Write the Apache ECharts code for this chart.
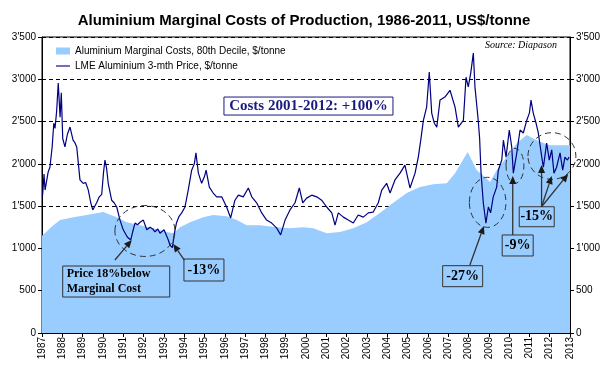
<!DOCTYPE html>
<html><head><meta charset="utf-8">
<script src="https://cdn.jsdelivr.net/npm/echarts@6/dist/echarts.min.js"></script>
<style>html,body{margin:0;padding:0;background:#fff}#c{width:608px;height:370px}</style>
</head><body><div id="c"></div>
<script>
const titleText = 'Aluminium Marginal Costs of Production, 1986-2011, US$/tonne';
const costName = 'Aluminium Marginal Costs, 80th Decile, $/tonne';
const priceName = 'LME Aluminium 3-mth Price, $/tonne';
const sourceText = 'Source: Diapason';

const yearLabels = ['1987','1988','1989','1990','1991','1992','1993','1994','1995','1996','1997','1998','1999','2000','2001','2002','2003','2004','2005','2006','2007','2008','2009','2010','2011','2012','2013'];
const yTickLabels = ['0','500',"1'000","1'500","2'000","2'500","3'000","3'500"];

const costYears = [1987.00,1987.56,1987.89,1988.54,1989.20,1990.02,1990.68,1991.17,1991.83,1992.48,1993.14,1993.47,1993.80,1994.29,1994.94,1995.43,1996.09,1996.59,1997.08,1997.73,1998.56,1999.21,1999.87,2000.36,2001.02,2001.67,2002.33,2002.99,2003.64,2004.30,2004.96,2005.61,2006.27,2006.93,2007.34,2007.96,2008.41,2008.81,2009.06,2009.39,2009.88,2010.38,2010.87,2011.03,2011.52,2012.01,2013.00];
const costValues = [1150,1275,1335,1370,1395,1430,1370,1310,1275,1240,1195,1180,1250,1310,1370,1395,1380,1335,1275,1275,1250,1240,1250,1240,1180,1195,1240,1310,1420,1540,1655,1725,1760,1770,1890,2140,1925,1845,1785,1925,2080,2245,2340,2320,2260,2220,2220];

const priceYears = [1987.03,1987.10,1987.15,1987.22,1987.30,1987.39,1987.50,1987.58,1987.64,1987.72,1987.80,1987.89,1987.95,1988.02,1988.13,1988.25,1988.38,1988.53,1988.62,1988.71,1988.87,1989.03,1989.15,1989.28,1989.40,1989.50,1989.69,1989.82,1989.94,1990.03,1990.10,1990.18,1990.26,1990.43,1990.55,1990.68,1990.84,1991.00,1991.20,1991.37,1991.47,1991.58,1991.70,1991.83,1991.99,1992.16,1992.32,1992.45,1992.56,1992.70,1992.81,1993.01,1993.22,1993.30,1993.42,1993.52,1993.62,1993.75,1993.88,1994.04,1994.20,1994.37,1994.50,1994.58,1994.70,1994.86,1995.00,1995.08,1995.24,1995.43,1995.60,1995.85,1996.09,1996.29,1996.50,1996.67,1996.91,1997.16,1997.33,1997.57,1997.82,1998.06,1998.31,1998.56,1998.75,1998.97,1999.21,1999.46,1999.67,1999.84,2000.03,2000.28,2000.53,2000.77,2001.02,2001.27,2001.43,2001.59,2001.84,2002.08,2002.33,2002.57,2002.82,2003.07,2003.31,2003.56,2003.73,2003.97,2004.14,2004.38,2004.63,2004.87,2005.12,2005.37,2005.53,2005.65,2005.78,2005.94,2006.07,2006.19,2006.32,2006.44,2006.60,2006.84,2007.09,2007.34,2007.50,2007.75,2007.88,2007.99,2008.11,2008.24,2008.32,2008.48,2008.55,2008.62,2008.73,2008.86,2008.98,2009.09,2009.22,2009.39,2009.47,2009.64,2009.72,2009.85,2010.01,2010.13,2010.21,2010.38,2010.54,2010.70,2010.87,2011.00,2011.08,2011.19,2011.33,2011.44,2011.61,2011.69,2011.85,2011.98,2012.10,2012.21,2012.34,2012.51,2012.64,2012.75,2012.87,2012.96];
const priceValues = [1631,1880,1690,1700,1900,1960,2200,2480,2420,2620,2955,2550,2840,2300,2200,2350,2435,2280,2250,2200,1810,1770,1780,1690,1540,1455,1540,1610,1640,1900,2045,1950,1770,1570,1540,1490,1335,1220,1135,1100,1200,1300,1280,1310,1335,1220,1250,1230,1195,1230,1180,1220,1100,1040,1010,1180,1300,1380,1420,1490,1690,1925,2000,2130,1890,1770,1850,1925,1725,1655,1610,1610,1490,1360,1570,1630,1610,1715,1610,1540,1420,1335,1300,1240,1160,1335,1455,1540,1715,1540,1595,1630,1610,1570,1490,1420,1275,1420,1370,1335,1300,1395,1370,1420,1430,1540,1690,1770,1655,1810,1890,1985,1715,1890,2080,2280,2515,2670,3085,2600,2480,2435,2755,2790,2870,2670,2435,2515,3025,2910,3070,3310,2910,2515,2300,1890,1540,1300,1490,1420,1610,1725,1925,2045,2280,2080,2400,2200,1890,2130,2400,2365,2515,2600,2755,2600,2480,2365,2080,1960,2245,2045,2165,1890,1960,2130,1925,2080,2045,2080];

// annotations, in data coordinates [year, value]
const ellipses = [[1992.07,1206,1.48,301],[2008.945,1545,0.90,296],[2010.29,1977,0.44,207],[2012.11,2093,1.18,276]];
const arrows = [[1990.59,863,1991.42,1100],[1994.01,863,1993.46,1052],[2008.07,804,2008.76,1265],[2010.18,1159,2010.18,1856],[2011.60,1493,2011.60,1986],[2011.60,1493,2012.10,1856],[2011.60,1493,2012.91,1880]];
const boxes = [
  {at:[1995.96,2790], w:169, h:18, lines:['Costs 2001-2012: +100%'], size:15, color:'#1a1a80', stroke:'#1a1a80', align:'center'},
  {at:[1988.02,792], w:107, h:31, lines:['Price 18%below','Marginal Cost'], size:12, color:'#000', stroke:'#333', align:'left'},
  {at:[1993.99,875], w:40, h:22, lines:['-13%'], size:14, color:'#000', stroke:'#333', align:'center'},
  {at:[2006.73,796], w:40, h:21, lines:['-27%'], size:14, color:'#000', stroke:'#333', align:'center'},
  {at:[2009.66,1159], w:31, h:21, lines:['-9%'], size:14, color:'#000', stroke:'#333', align:'center'},
  {at:[2010.50,1493], w:35, h:20, lines:['-15%'], size:14, color:'#000', stroke:'#333', align:'center'}
];
const sourceAt = [2012.36, 3405];

const zip = (a,b) => a.map((x,i)=>[x,b[i]]);
const fmtY = v => yTickLabels[Math.round(v/500)];
const fmtX = v => yearLabels[Math.round(v-1987)];
const SANS = 'Liberation Sans, Arial, sans-serif';
const SERIF = 'Liberation Serif, Times New Roman, serif';

const chart = echarts.init(document.getElementById('c'));
const yAxisBase = {
  type:'value', min:0, max:3500, interval:500,
  axisLine:{show:true, lineStyle:{color:'#000', width:1}},
  axisTick:{show:true, length:4, lineStyle:{color:'#000'}},
  axisLabel:{formatter:fmtY, fontSize:10, color:'#000', fontFamily:SANS, margin:6}
};
chart.setOption({
  animation:false,
  title:{text:titleText, left:'center', top:8, textStyle:{fontFamily:SANS, fontSize:15, fontWeight:'bold', color:'#000'}},
  grid:{left:42, right:38, top:37, bottom:37, show:true, borderColor:'#000', borderWidth:1},
  legend:{orient:'vertical', left:51, top:41, itemWidth:14, itemHeight:7, itemGap:5, selectedMode:false, symbolKeepAspect:true,
    textStyle:{fontSize:10, fontFamily:SANS, color:'#000'},
    data:[{name:costName, icon:'rect'}, {name:priceName, icon:'path://M0,0h20v1.6h-20z'}]},
  xAxis:{type:'value', min:1987, max:2013, interval:1,
    axisLine:{show:true, onZero:false, lineStyle:{color:'#000'}},
    axisTick:{show:true, length:4, lineStyle:{color:'#000'}},
    axisLabel:{rotate:90, fontSize:10, color:'#000', fontFamily:SANS, formatter:fmtX, margin:4},
    splitLine:{show:false}},
  yAxis:[
    Object.assign({}, yAxisBase, {position:'left', splitLine:{show:true, lineStyle:{type:[4,3], color:'#000', width:1}}}),
    Object.assign({}, yAxisBase, {position:'right', splitLine:{show:false}})
  ],
  series:[
    {name:costName, type:'line', data:zip(costYears,costValues), symbol:'none', showSymbol:false,
     lineStyle:{width:0, color:'#99CCFF'}, itemStyle:{color:'#99CCFF'}, areaStyle:{color:'#99CCFF', opacity:1}, z:2},
    {name:priceName, type:'line', data:zip(priceYears,priceValues), symbol:'none', showSymbol:false,
     lineStyle:{width:1.2, color:'#000080'}, itemStyle:{color:'#000080'}, z:3}
  ]
});

const P = (x,y) => chart.convertToPixel({xAxisIndex:0, yAxisIndex:0}, [x,y]);
const g = [];
ellipses.forEach(([cx,cy,rx,ry])=>{
  const c = P(cx,cy), e = P(cx+rx, cy+ry);
  g.push({type:'ellipse', shape:{cx:c[0], cy:c[1], rx:e[0]-c[0], ry:c[1]-e[1]}, style:{fill:null, stroke:'#333', lineWidth:1, lineDash:[6,4]}, z:100, silent:true});
});
arrows.forEach(([x1,y1,x2,y2])=>{
  const a = P(x1,y1), b = P(x2,y2);
  const dx=b[0]-a[0], dy=b[1]-a[1], L=Math.hypot(dx,dy), ux=dx/L, uy=dy/L;
  const hl=8, hw=3.5;
  const base=[b[0]-ux*hl, b[1]-uy*hl];
  g.push({type:'line', shape:{x1:a[0],y1:a[1],x2:base[0],y2:base[1]}, style:{stroke:'#333', lineWidth:1.3}, z:100, silent:true});
  g.push({type:'polygon', shape:{points:[b,[base[0]-uy*hw, base[1]+ux*hw],[base[0]+uy*hw, base[1]-ux*hw]]}, style:{fill:'#1a1a1a'}, z:100, silent:true});
});
boxes.forEach(bx=>{
  const p = P(bx.at[0], bx.at[1]);
  g.push({type:'rect', shape:{x:p[0], y:p[1], width:bx.w, height:bx.h}, style:{fill:bx.stroke==='#1a1a80'?'#fff':null, stroke:bx.stroke, lineWidth:1}, z:101, silent:true});
  const tx = bx.align==='left' ? p[0]+4 : p[0]+bx.w/2;
  g.push({type:'text', x:tx, y:p[1]+bx.h/2, style:{text:bx.lines.join('\n'), fill:bx.color, font:'bold '+bx.size+'px '+SERIF, align:bx.align, verticalAlign:'middle', lineHeight:bx.size+3}, z:102, silent:true});
});
const sp = P(sourceAt[0], sourceAt[1]);
g.push({type:'text', x:sp[0], y:sp[1], style:{text:sourceText, fill:'#000', font:'italic 10px '+SERIF, align:'right', verticalAlign:'middle'}, z:102, silent:true});
chart.setOption({graphic:g});
</script></body></html>
